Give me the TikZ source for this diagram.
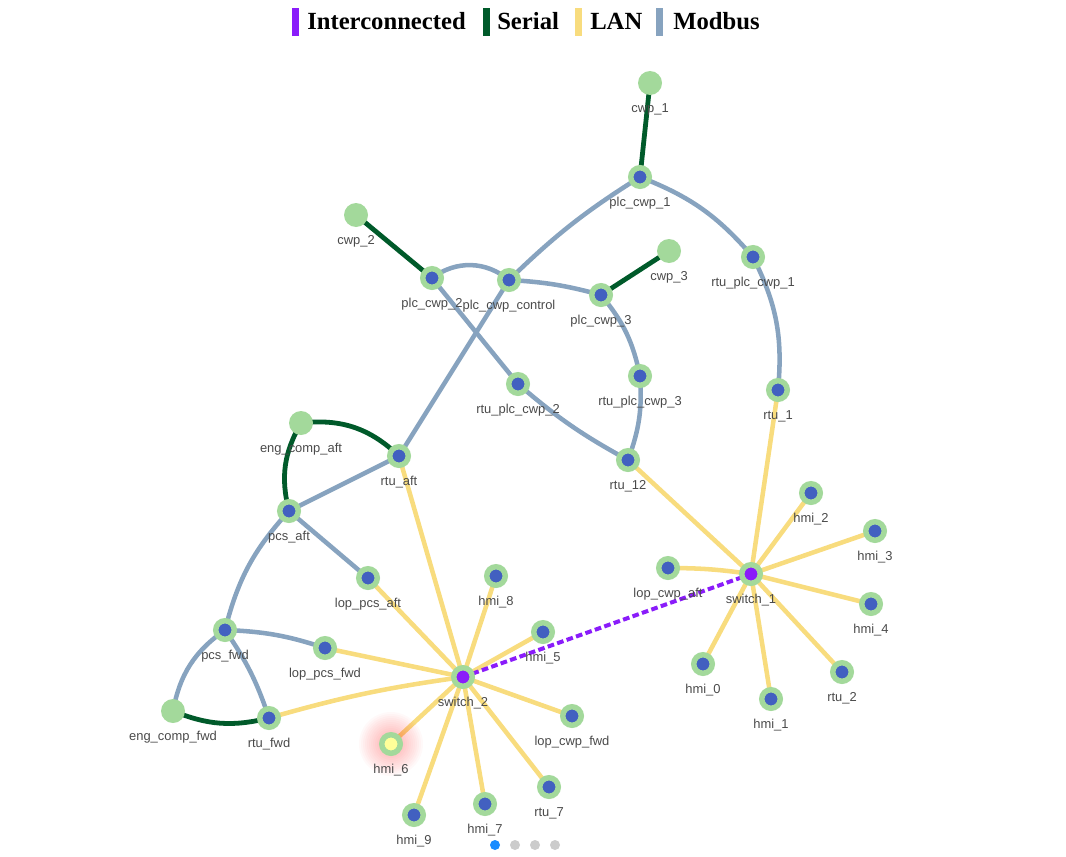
\documentclass[tikz,border=0pt]{standalone}
\usepackage{fontspec}
\setmainfont{Liberation Serif}
\newfontfamily\labfont{Liberation Sans}
\definecolor{serialc}{HTML}{005A2A}
\definecolor{modbusc}{HTML}{87A3BF}
\definecolor{lanc}{HTML}{F8DC7E}
\definecolor{interc}{HTML}{8A1CFA}
\definecolor{ringc}{HTML}{A3D99B}
\definecolor{devc}{HTML}{4260C0}
\definecolor{labc}{HTML}{4A4A4A}
\definecolor{hmisel}{HTML}{FFFF99}
\definecolor{pageblue}{HTML}{1A8CFF}
\definecolor{pagegray}{HTML}{CCCCCC}
\pgfdeclarelayer{edges}
\pgfsetlayers{edges,main}
\begin{document}
\begin{tikzpicture}[x=0.75pt,y=-0.75pt,
  dev/.style={circle, fill=devc, draw=ringc, line width=4.1pt, minimum size=13.9pt, inner sep=0pt},
  sw/.style={dev, fill=interc},
  sel/.style={dev, fill=hmisel},
  ep/.style={circle, fill=ringc, minimum size=18pt, inner sep=0pt},
  lab/.style={font=\labfont\fontsize{9.7}{11}\selectfont, text=labc, yshift=-19.5pt, inner sep=0pt},
  serial/.style={draw=serialc, line width=3.6pt},
  modbus/.style={draw=modbusc, line width=3.4pt},
  lan/.style={draw=lanc, line width=3.4pt},
  inter/.style={draw=interc, line width=3pt, dash pattern=on 5pt off 2.5pt},
  legtext/.style={font=\bfseries\fontsize{18.5}{20}\selectfont, anchor=base west, inner sep=0pt},
  legbar/.style={minimum width=5.25pt, minimum height=21pt, inner sep=0pt, anchor=north west},
  pagedot/.style={circle, minimum size=7.5pt, inner sep=0pt}
]
\useasboundingbox (0,0) rectangle (1066,856);
% legend
\node[legbar, fill=interc] (b1) at (292,8) {};
\node[legtext] (t1) at (307,30) {Interconnected};
\node[legbar, fill=serialc] (b2) at (483,8) {};
\node[legtext] (t2) at (497,30) {Serial};
\node[legbar, fill=lanc] (b3) at (575,8) {};
\node[legtext] (t3) at (590,30) {LAN};
\node[legbar, fill=modbusc] (b4) at (656,8) {};
\node[legtext] (t4) at (673,30) {Modbus};
% glow of selected node
\foreach \r in {32,30,...,10} \fill[red, opacity=0.022] (391,744) circle (\r);
% nodes
\node[ep,label={[lab]center:cwp\_1}] (cwp1) at (650,83) {};
\node[dev,label={[lab]center:plc\_cwp\_1}] (plc1) at (640,177) {};
\node[ep,label={[lab]center:cwp\_2}] (cwp2) at (356,215) {};
\node[dev,label={[lab]center:plc\_cwp\_2}] (plc2) at (432,278) {};
\node[dev,label={[lab]center:plc\_cwp\_control}] (plcc) at (509,280) {};
\node[ep,label={[lab]center:cwp\_3}] (cwp3) at (669,251) {};
\node[dev,label={[lab]center:plc\_cwp\_3}] (plc3) at (601,295) {};
\node[dev,label={[lab]center:rtu\_plc\_cwp\_1}] (rpc1) at (753,257) {};
\node[dev,label={[lab]center:rtu\_plc\_cwp\_2}] (rpc2) at (518,384) {};
\node[dev,label={[lab]center:rtu\_plc\_cwp\_3}] (rpc3) at (640,376) {};
\node[dev,label={[lab]center:rtu\_1}] (rtu1) at (778,390) {};
\node[ep,label={[lab]center:eng\_comp\_aft}] (eca) at (301,423) {};
\node[dev,label={[lab]center:rtu\_aft}] (rtuaft) at (399,456) {};
\node[dev,label={[lab]center:rtu\_12}] (rtu12) at (628,460) {};
\node[dev,label={[lab]center:pcs\_aft}] (pcsaft) at (289,511) {};
\node[dev,label={[lab]center:hmi\_2}] (hmi2) at (811,493) {};
\node[dev,label={[lab]center:hmi\_3}] (hmi3) at (875,531) {};
\node[dev,label={[lab]center:lop\_pcs\_aft}] (lpa) at (368,578) {};
\node[dev,label={[lab]center:hmi\_8}] (hmi8) at (496,576) {};
\node[dev,label={[lab]center:lop\_cwp\_aft}] (lca) at (668,568) {};
\node[sw,label={[lab]center:switch\_1}] (sw1) at (751,574) {};
\node[dev,label={[lab]center:hmi\_4}] (hmi4) at (871,604) {};
\node[dev,label={[lab]center:pcs\_fwd}] (pcsfwd) at (225,630) {};
\node[dev,label={[lab]center:hmi\_5}] (hmi5) at (543,632) {};
\node[dev,label={[lab]center:lop\_pcs\_fwd}] (lpf) at (325,648) {};
\node[dev,label={[lab]center:hmi\_0}] (hmi0) at (703,664) {};
\node[dev,label={[lab]center:rtu\_2}] (rtu2) at (842,672) {};
\node[sw,label={[lab]center:switch\_2}] (sw2) at (463,677) {};
\node[dev,label={[lab]center:hmi\_1}] (hmi1) at (771,699) {};
\node[ep,label={[lab]center:eng\_comp\_fwd}] (ecf) at (173,711) {};
\node[dev,label={[lab]center:rtu\_fwd}] (rtufwd) at (269,718) {};
\node[dev,label={[lab]center:lop\_cwp\_fwd}] (lcf) at (572,716) {};
\node[sel,label={[lab]center:hmi\_6}] (hmi6) at (391,744) {};
\node[dev,label={[lab]center:rtu\_7}] (rtu7) at (549,787) {};
\node[dev,label={[lab]center:hmi\_9}] (hmi9) at (414,815) {};
\node[dev,label={[lab]center:hmi\_7}] (hmi7) at (485,804) {};
% page dots
\node[pagedot, fill=pageblue] (p1) at (495,845) {};
\node[pagedot, fill=pagegray] (p2) at (515,845) {};
\node[pagedot, fill=pagegray] (p3) at (535,845) {};
\node[pagedot, fill=pagegray] (p4) at (555,845) {};
% edges
\begin{pgfonlayer}{edges}
% serial
\draw[serial] (cwp1.center) -- (plc1.center);
\draw[serial] (cwp2.center) -- (plc2.center);
\draw[serial] (cwp3.center) -- (plc3.center);
\draw[serial] (eca.center) to[bend left=25] (rtuaft.center);
\draw[serial] (eca.center) to[bend right=22] (pcsaft.center);
\draw[serial] (ecf.center) to[bend right=18] (rtufwd.center);
% modbus
\draw[modbus] (plcc.center) to[bend left=6] (plc1.center);
\draw[modbus] (plc1.center) to[bend left=14] (rpc1.center);
\draw[modbus] (rpc1.center) to[bend left=16] (rtu1.center);
\draw[modbus] (plc2.center) to[bend left=38] (plcc.center);
\draw[modbus] (plcc.center) to[bend left=6] (plc3.center);
\draw[modbus] (plc2.center) -- (rpc2.center);
\draw[modbus] (rpc2.center) to[bend right=6] (rtu12.center);
\draw[modbus] (plc3.center) to[bend left=14] (rpc3.center);
\draw[modbus] (rpc3.center) to[bend left=12] (rtu12.center);
\draw[modbus] (plcc.center) -- (rtuaft.center);
\draw[modbus] (rtuaft.center) -- (pcsaft.center);
\draw[modbus] (pcsaft.center) -- (lpa.center);
\draw[modbus] (pcsaft.center) to[bend right=14] (pcsfwd.center);
\draw[modbus] (pcsfwd.center) to[bend left=8] (lpf.center);
\draw[modbus] (pcsfwd.center) to[bend left=8] (rtufwd.center);
\draw[modbus] (pcsfwd.center) to[bend right=22] (ecf.center);
% LAN
\draw[lan] (rtu1.center) -- (sw1.center);
\draw[lan] (rtu12.center) -- (sw1.center);
\draw[lan] (hmi2.center) -- (sw1.center);
\draw[lan] (hmi3.center) -- (sw1.center);
\draw[lan] (hmi4.center) -- (sw1.center);
\draw[lan] (rtu2.center) -- (sw1.center);
\draw[lan] (hmi1.center) -- (sw1.center);
\draw[lan] (hmi0.center) -- (sw1.center);
\draw[lan] (lca.center) to[bend left=4] (sw1.center);
\draw[lan] (rtuaft.center) -- (sw2.center);
\draw[lan] (lpa.center) -- (sw2.center);
\draw[lan] (hmi8.center) -- (sw2.center);
\draw[lan] (hmi5.center) -- (sw2.center);
\draw[lan] (lcf.center) -- (sw2.center);
\draw[lan] (rtu7.center) -- (sw2.center);
\draw[lan] (hmi7.center) -- (sw2.center);
\draw[lan] (hmi9.center) -- (sw2.center);
\draw[lan] (hmi6.center) -- (sw2.center);
\draw[lan] (rtufwd.center) to[bend left=4] (sw2.center);
\draw[lan] (lpf.center) -- (sw2.center);
% interconnected
\draw[inter] (sw2.center) -- (sw1.center);
\end{pgfonlayer}
\end{tikzpicture}
\end{document}
